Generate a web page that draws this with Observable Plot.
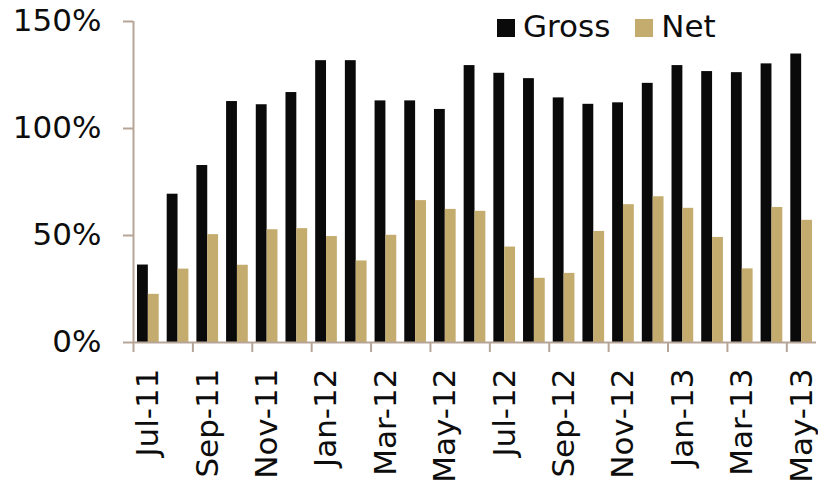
<!DOCTYPE html>
<html>
<head>
<meta charset="utf-8">
<script src="https://cdn.jsdelivr.net/npm/d3@7"></script>
<script src="https://cdn.jsdelivr.net/npm/@observablehq/plot@0.6"></script>
<style>
  body { margin: 0; background: #fff; font-family: "DejaVu Sans", sans-serif; }
  #wrap { position: relative; width: 818px; height: 485px; }
  .legend { position: absolute; top: 8px; left: 497px; font-size: 31px; line-height: 36px; color: #0d0d0d; white-space: nowrap; }
  .legend .sw { display: inline-block; width: 18px; height: 18px; margin-right: 8px; vertical-align: baseline; }
  .legend .item + .item { margin-left: 25px; }
</style>
</head>
<body>
<div id="wrap">
  <div class="legend">
    <span class="item"><span class="sw" style="background:#0a0a0a"></span>Gross</span><span class="item"><span class="sw" style="background:#c4ab6e"></span>Net</span>
  </div>
</div>
<script>
// Monthly gross and net ratios, Jul 2011 – May 2013 (in %)
const months = ["Jul-11","Aug-11","Sep-11","Oct-11","Nov-11","Dec-11","Jan-12","Feb-12","Mar-12","Apr-12","May-12","Jun-12",
                "Jul-12","Aug-12","Sep-12","Oct-12","Nov-12","Dec-12","Jan-13","Feb-13","Mar-13","Apr-13","May-13"];
const gross = [36.2, 69.3, 82.7, 112.6, 111.1, 116.8, 131.7, 131.7, 112.9, 112.9, 108.9, 129.4,
               125.8, 123.3, 114.3, 111.3, 112.0, 121.1, 129.4, 126.6, 126.1, 130.2, 134.8];
const net = [22.5, 34.3, 50.4, 36.1, 52.7, 53.2, 49.5, 38.1, 50.1, 66.3, 62.2, 61.3,
             44.6, 30.0, 32.3, 51.9, 64.4, 68.1, 62.7, 49.1, 34.4, 63.1, 57.1];
const yTicks = [0, 50, 100, 150];
const labelMonths = months.filter((d, i) => i % 2 === 0);

const rows = months.map((month, i) => ({month, gross: gross[i], net: net[i]}));

const W = 818, H = 485, mL = 133, mR = 2, mT = 21, mB = 143;
const bw = (W - mL - mR) / months.length;   // width of one month band
const pad = 4;                               // gap at each side of a month's bar pair
const half = (bw - 2 * pad) / 2;             // width of one bar
const axisColor = "#b6a597";

const chart = Plot.plot({
  width: W, height: H,
  marginLeft: mL, marginRight: mR, marginTop: mT, marginBottom: mB,
  style: { fontFamily: "DejaVu Sans, sans-serif", fontSize: "31px", color: "#0d0d0d", background: "white" },
  x: { type: "band", domain: months, padding: 0, round: false },
  y: { domain: [0, 150] },
  marks: [
    Plot.barY(rows, { x: "month", y: "gross", fill: "#0a0a0a", insetLeft: pad, insetRight: pad + half }),
    Plot.barY(rows, { x: "month", y: "net", fill: "#c4ab6e", insetLeft: pad + half, insetRight: pad }),
    Plot.ruleY([0], { stroke: axisColor, strokeWidth: 2 }),
    Plot.ruleX([months[0]], { dx: -bw / 2, y1: 0, y2: 150, stroke: axisColor, strokeWidth: 2 }),
    Plot.axisY({ ticks: yTicks, tickFormat: d => d + "%", tickSize: 10, tickPadding: 22,
                 stroke: axisColor, strokeWidth: 2, label: null }),
    // tick marks on the boundaries between every second month
    Plot.axisX({ ticks: labelMonths, tickSize: 10, tickFormat: () => "", dx: -bw / 2,
                 stroke: axisColor, strokeWidth: 2, label: null }),
    // rotated month labels centred under their band
    Plot.axisX({ ticks: labelMonths, tickSize: 0, tickRotate: -90, tickPadding: 26, label: null })
  ]
});

document.getElementById("wrap").prepend(chart);
</script>
</body>
</html>
